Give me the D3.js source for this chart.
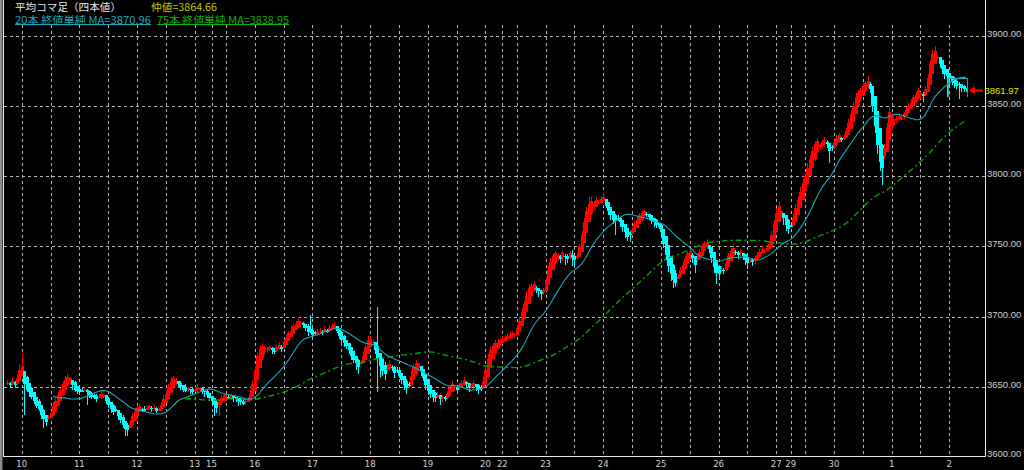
<!DOCTYPE html>
<html><head><meta charset="utf-8">
<script src="https://cdn.jsdelivr.net/npm/d3@7"></script>
<style>html,body{margin:0;padding:0;background:#000;overflow:hidden}</style>
</head><body>
<svg id="c" width="1024" height="470"></svg>
<script>
// ---- tick labels (day of month) and the bar index where each day starts ----
const dayLabels = ["10","11","12","13","15","16","17","18","19","20","22","23","24","25","26","27","29","30","1","2"];
const dayStart  = [6,30,54,78,85,103,127,151,175,199,206,224,248,272,296,320,326,344,368,392];
// vertical grid (bar indices)
const gridIndex = [6,18,30,42,54,66,78,85,91,103,115,127,139,151,163,175,187,199,206,212,224,236,248,260,272,284,296,308,320,326,332,344,356,368,380,392];
const priceTicks = [3600,3650,3700,3750,3800,3850,3900];

// ---- Heikin-Ashi close per hourly bar ----
const haClose = [
3653,3652,3654,3651,3656,3662,
3665,3652,3648,3646,3643,3640,3636,3634,3630,3627,3625,3628,3631,3636,3640,3644,3648,3652,3655,3657,3656,3651,3648,3647,
3646,3647,3648,3646,3644,3643,3642,3641,3643,3645,3644,3640,3637,3634,3632,3633,3629,3626,3623,3620,3619,3624,3629,3633,
3635,3636,3634,3633,3635,3636,3634,3635,3633,3634,3637,3641,3645,3650,3654,3656,3655,3652,3650,3648,3647,3649,3648,3646,
3648,3650,3649,3647,3646,3644,3642,
3640,3637,3635,3639,3642,3644,3643,3642,3644,3642,3641,3640,3639,3638,3640,3641,3645,3652,
3662,3672,3677,3679,3678,3677,3678,3676,3675,3678,3680,3677,3682,3685,3688,3690,3693,3695,3697,3696,3694,3692,3689,3690,
3687,3688,3689,3690,3689,3691,3690,3692,3693,3694,3690,3686,3683,3681,3679,3676,3672,3669,3666,3664,3667,3672,3678,3683,
3684,3682,3676,3670,3665,3661,3659,3663,3666,3664,3660,3662,3658,3655,3651,3649,3651,3658,3664,3667,3666,3661,3656,3651,
3647,3645,3643,3642,3644,3641,3643,3642,3645,3649,3652,3650,3648,3651,3653,3655,3652,3649,3651,3653,3650,3648,3649,3654,
3662,3670,3676,3679,3681,3682,3683,
3684,3685,3686,3687,3688,3687,3692,3697,3703,3709,3715,3720,3722,3723,3720,3718,3716,3719,
3726,3733,3739,3743,3745,3744,3741,3745,3743,3741,3745,3742,3740,3743,3750,3758,3767,3775,3780,3782,3780,3783,3781,3784,
3785,3779,3775,3772,3769,3768,3770,3767,3764,3760,3757,3758,3762,3766,3769,3772,3774,3775,3773,3771,3768,3767,3765,3764,
3760,3752,3744,3736,3730,3726,3724,3728,3733,3737,3741,3745,3747,3742,3737,3741,3746,3750,3752,3753,3748,3742,3735,3731,
3730,3734,3733,3738,3743,3747,3749,3746,3744,3746,3743,3740,3738,3741,3739,3742,3744,3746,3748,3747,3749,3752,3758,3766,
3774,3779,3775,3770,3765,3762,
3764,3770,3777,3783,3789,3795,3800,3806,3812,3818,3823,3825,3822,3824,3826,3823,3818,3820,
3824,3827,3829,3826,3828,3832,3838,3844,3850,3856,3859,3861,3864,3866,3868,3862,3850,3836,3822,3810,3806,3820,3835,3846,
3843,3840,3841,3843,3842,3844,3847,3850,3853,3856,3858,3861,3859,3857,3862,3870,3880,3887,3889,3885,3880,3876,3873,3871,
3869,3868,3866,3864,3865,3863,3862,3862
];
// upper / lower shadow length above / below the body (price units)
const wickUp = [
2,1,2,1,3,4,
8,0,1,0,1,0,0,2,0,1,0,2,2,3,2,2,1,2,3,2,1,0,1,0,
1,2,2,1,0,1,1,2,2,2,1,0,1,0,1,2,0,0,1,0,1,2,2,2,
2,2,1,2,2,1,1,2,1,1,2,3,2,2,3,2,1,0,1,0,2,1,0,1,
2,2,1,0,0,1,0,
0,0,1,2,2,1,1,2,1,1,0,0,1,1,2,2,3,3,
3,2,3,2,1,1,2,1,1,2,2,1,2,2,2,3,2,2,3,1,1,0,1,10,
1,1,2,2,1,2,1,2,2,2,0,0,0,1,0,0,0,0,0,1,2,3,2,3,
2,1,0,28,0,1,2,3,3,1,1,2,1,0,0,1,2,3,2,2,1,0,0,0,
0,0,0,1,2,0,1,1,2,2,2,1,1,2,2,2,1,0,1,2,0,1,2,3,
3,3,2,2,2,2,2,
2,2,2,2,2,1,2,3,3,2,3,3,2,2,1,0,0,1,
2,3,3,2,2,1,1,2,1,1,2,4,1,2,2,3,3,3,5,3,2,2,2,2,
3,0,0,0,0,1,2,1,0,0,0,1,2,2,2,2,2,1,1,0,0,0,1,0,
0,0,0,0,0,1,2,2,2,2,2,2,2,1,0,2,2,2,2,2,0,0,0,0,
1,2,1,2,2,2,2,1,1,2,0,0,1,1,1,1,2,2,2,1,2,2,3,3,
3,3,0,0,0,1,
2,3,3,3,3,3,2,3,3,3,2,2,1,2,2,1,0,1,
2,2,2,1,2,2,3,3,3,3,2,2,2,2,3,1,0,0,0,0,1,3,3,3,
2,1,2,2,1,2,2,2,2,2,2,2,1,1,2,3,3,3,4,1,0,0,0,0,
0,0,1,1,1,0,1,0
];
const wickDn = [
1,2,1,2,1,0,
0,22,2,3,2,2,1,1,3,6,3,0,0,0,1,0,0,1,0,1,2,3,2,2,
2,1,0,9,2,2,1,2,0,1,2,2,2,3,2,1,3,2,2,5,4,0,1,0,
1,0,2,1,0,1,2,1,2,1,0,0,0,0,0,1,2,3,2,2,1,2,3,2,
1,1,2,2,3,2,2,
3,8,4,8,1,1,2,1,2,3,2,4,2,1,1,0,0,0,
0,0,0,1,1,2,1,3,2,1,1,2,0,0,0,0,0,0,1,2,2,2,3,2,
2,1,1,1,2,1,2,1,0,1,2,2,2,3,2,3,3,2,4,5,1,0,0,0,
1,2,3,24,8,3,4,2,1,3,4,2,2,3,3,4,1,0,0,1,2,3,2,3,
3,3,4,3,2,4,3,2,1,1,0,2,3,1,1,1,3,3,2,1,3,3,2,0,
0,0,0,0,1,1,1,
1,1,1,1,1,2,0,0,0,0,0,0,1,1,3,4,4,2,
0,0,0,0,1,2,3,2,6,3,2,6,3,1,0,0,0,0,0,1,2,1,1,1,
1,2,3,3,3,10,2,3,4,4,3,5,0,0,0,0,1,1,2,2,2,3,2,2,
3,3,4,4,5,6,3,0,0,0,0,0,1,4,6,1,0,0,0,1,3,4,4,8,
3,2,3,1,0,0,0,2,3,2,3,3,4,2,3,2,1,1,0,1,0,0,0,0,
0,0,3,5,4,3,
0,0,0,0,0,0,0,0,0,0,1,1,3,2,1,3,9,2,
1,1,1,2,1,0,0,0,0,0,0,1,1,1,1,3,4,5,6,6,12,2,0,0,
3,4,2,1,2,1,0,0,0,0,1,1,3,4,1,0,0,0,0,2,3,3,4,15,
4,3,3,2,10,3,2,2
];
const firstOpen = 3652;
const lastPrice = 3861.97;
const lastBox = {from: 391.5, to: 399.4, top: 3869.7, bottom: 3856.2};
const maPeriods = [20, 75];
const legendTitle = "平均コマ足（四本値）";
const legendMid = "仲値=3864.66";
const legendMA = ["20本 終値単純 MA=3870.96", "75本 終値単純 MA=3838.95"];

if (haClose.length !== 400 || wickUp.length !== 400 || wickDn.length !== 400)
  throw new Error("len " + haClose.length + " " + wickUp.length + " " + wickDn.length);

// ---- layout / style ----
const W = 1024, H = 470;
const frame = {left: 3.5, right: 985.5, bottom: 456.5, gridTop: 25};
const RED = "#ff0000", CYAN = "#00ffff", TEAL = "#1aa8b8", GREEN = "#00a400";
const GRID = "#b4b4b4", AXIS_TXT = "#d0d0d0";

const svg = d3.select("#c");
svg.append("rect").attr("width", W).attr("height", H).attr("fill", "#000");

const x = d3.scaleLinear().domain([0, 400]).range([7.3, 968.5]);
const y = d3.scaleLinear().domain([3600, 3900]).range([457, 35.7]);
const px = v => Math.round(v) + 0.5;

// Heikin-Ashi table
const haOpen = [firstOpen];
for (let i = 1; i < haClose.length; i++) haOpen[i] = (haOpen[i - 1] + haClose[i - 1]) / 2;
const bars = haClose.map((c, i) => {
  const o = haOpen[i];
  return {i, o, c, h: Math.max(o, c) + wickUp[i], l: Math.min(o, c) - wickDn[i]};
});
function sma(n) {
  const out = [];
  for (let i = n - 1; i < haClose.length; i++) out.push({i, v: d3.mean(haClose.slice(i - n + 1, i + 1))});
  return out;
}

// gray strip on the far left
svg.append("rect").attr("x", 0).attr("y", 0).attr("width", 2.5).attr("height", H).attr("fill", "#8c8c8c");

// grid
const g = svg.append("g").attr("shape-rendering", "crispEdges");
g.selectAll("line.h").data(priceTicks.filter(v => v > 3600)).join("line")
  .attr("x1", frame.left).attr("x2", frame.right)
  .attr("y1", d => px(y(d))).attr("y2", d => px(y(d)))
  .attr("stroke", GRID).attr("stroke-dasharray", "3,3");
g.selectAll("line.v").data(gridIndex).join("line")
  .attr("x1", d => px(x(d))).attr("x2", d => px(x(d)))
  .attr("y1", frame.gridTop).attr("y2", frame.bottom)
  .attr("stroke", GRID).attr("stroke-dasharray", "3,3");

// candles
const cg = svg.append("g").attr("shape-rendering", "crispEdges");
cg.selectAll("rect.w").data(bars).join("rect")
  .attr("x", d => Math.round(x(d.i))).attr("width", 1)
  .attr("y", d => y(d.h)).attr("height", d => Math.max(1, y(d.l) - y(d.h)))
  .attr("fill", d => d.c >= d.o ? RED : CYAN);
cg.selectAll("rect.b").data(bars).join("rect")
  .attr("x", d => Math.round(x(d.i)) - 1).attr("width", 3)
  .attr("y", d => y(Math.max(d.o, d.c)))
  .attr("height", d => Math.max(1.5, Math.abs(y(d.o) - y(d.c))))
  .attr("fill", d => d.c >= d.o ? RED : CYAN);

// last bar box
svg.append("path")
  .attr("d", `M${px(x(lastBox.from))},${y(lastBox.bottom)}V${px(y(lastBox.top))}H${px(x(lastBox.to))}V${y(lastBox.bottom)}`)
  .attr("fill", "none").attr("stroke", TEAL).attr("stroke-width", 1).attr("shape-rendering", "crispEdges");

// moving averages
const line = d3.line().x(d => x(d.i)).y(d => y(d.v));
svg.append("path").datum(sma(maPeriods[1])).attr("d", line)
  .attr("fill", "none").attr("stroke", GREEN).attr("stroke-width", 1.4).attr("stroke-dasharray", "6,3,2,3");
svg.append("path").datum(sma(maPeriods[0])).attr("d", line)
  .attr("fill", "none").attr("stroke", TEAL).attr("stroke-width", 1.1);

// frame
const fg = svg.append("g").attr("stroke", "#e8e8e8").attr("shape-rendering", "crispEdges");
fg.append("line").attr("x1", frame.left).attr("x2", frame.left).attr("y1", 0).attr("y2", frame.bottom);
fg.append("line").attr("x1", frame.left).attr("x2", frame.right).attr("y1", frame.bottom).attr("y2", frame.bottom);
fg.append("line").attr("x1", frame.right).attr("x2", frame.right).attr("y1", 0).attr("y2", frame.bottom);

// right price axis labels
svg.selectAll("text.p").data(priceTicks).join("text")
  .attr("x", 987).attr("y", d => Math.min(y(d) + 1, 457))
  .attr("fill", AXIS_TXT).attr("font-family", "Liberation Sans, Arial, sans-serif")
  .attr("font-size", "9.5px").text(d => d3.format(".2f")(d));

// bottom day labels
svg.selectAll("text.d").data(dayLabels).join("text")
  .attr("x", (d, k) => x(dayStart[k])).attr("y", 467)
  .attr("text-anchor", "middle").attr("fill", AXIS_TXT)
  .attr("font-family", "Liberation Sans Narrow, DejaVu Sans Condensed, sans-serif")
  .attr("font-size", "9.5px").text(d => d);

// current price arrow + label
const yp = y(lastPrice) + 1.5;
svg.append("path")
  .attr("d", `M969,${yp}L975,${yp - 4}L975,${yp - 1}L983,${yp - 1}L983,${yp + 1}L975,${yp + 1}L975,${yp + 4}Z`)
  .attr("fill", RED);
svg.append("text").attr("x", 984.5).attr("y", yp + 3.5)
  .attr("fill", "#e4e400").attr("font-family", "Liberation Sans, Arial, sans-serif")
  .attr("font-size", "9.5px").text(d3.format(".2f")(lastPrice));

// legend
const lf = "Noto Sans CJK JP, sans-serif";
svg.append("text").attr("x", 15).attr("y", 10.5).attr("fill", "#e6e6e6")
  .attr("font-family", lf).attr("font-size", "10.5px")
  .attr("textLength", 106).attr("lengthAdjust", "spacingAndGlyphs").text(legendTitle);
svg.append("text").attr("x", 151).attr("y", 10.5).attr("fill", "#c8c800")
  .attr("font-family", lf).attr("font-size", "10.5px")
  .attr("textLength", 66).attr("lengthAdjust", "spacingAndGlyphs").text(legendMid);
const maLeg = [{x: 15, w: 136, c: TEAL}, {x: 157, w: 132, c: "#10b010"}];
maLeg.forEach((m, k) => {
  svg.append("text").attr("x", m.x).attr("y", 23.5).attr("fill", m.c)
    .attr("font-family", lf).attr("font-size", "10.5px")
    .attr("textLength", m.w).attr("lengthAdjust", "spacingAndGlyphs").text(legendMA[k]);
  svg.append("line").attr("x1", m.x).attr("x2", m.x + m.w).attr("y1", 24.5).attr("y2", 24.5)
    .attr("stroke", m.c).attr("shape-rendering", "crispEdges");
});
</script>
</body></html>
